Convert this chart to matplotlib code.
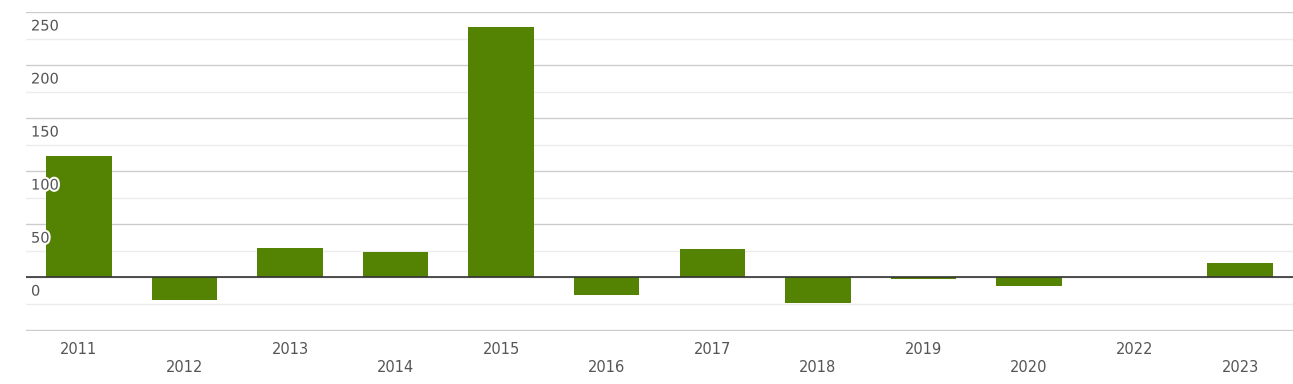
import matplotlib
matplotlib.use("Agg")
import matplotlib.pyplot as plt
import matplotlib.patheffects as pe
import numpy as np

years = ['2011', '2012', '2013', '2014', '2015', '2016', '2017', '2018', '2019', '2020', '2022', '2023']
values = [114.4, -22.0, 27.6, 23.6, 236.0, -16.7, 26.7, -24.0, -2.2, -8.2, 0.0, 13.5]
y_ticks = [0, 50, 100, 150, 200, 250]

fig = plt.figure(figsize=(12.93, 3.84), dpi=100)
ax = fig.add_axes([26 / 1293, 53 / 384, 1267 / 1293, 319 / 384])

x = np.arange(len(years))
ax.set_xlim(-0.5, len(years) - 0.5)
ax.set_ylim(-50.8, 250)

# grid lines
for v in np.arange(-50, 251, 50):
    ax.axhline(v, color='#cccccc', lw=1, zorder=0)
for v in np.arange(-25, 250, 50):
    ax.axhline(v, color='#ececec', lw=1, zorder=0)

ax.bar(x, values, width=0.62, color='#548203', zorder=2)
ax.axhline(0, color='#333333', lw=1.2, zorder=3)

for s in ax.spines.values():
    s.set_visible(False)
ax.set_xticks([])
ax.set_yticks([])

halo = [pe.withStroke(linewidth=3, foreground='white')]
for t in y_ticks:
    ax.annotate(str(t), xy=(0, t), xycoords=('axes fraction', 'data'),
                xytext=(5, -14), textcoords='offset pixels',
                ha='left', va='center', fontsize=10.5, color='#555555',
                path_effects=halo, zorder=4)

for i, yr in enumerate(years):
    off = -18 if i % 2 == 0 else -37
    ax.annotate(yr, xy=(i, 0), xycoords=('data', 'axes fraction'),
                xytext=(0, off), textcoords='offset pixels',
                ha='center', va='center', fontsize=10.5, color='#555555')

fig.savefig('out.png', dpi=100)
